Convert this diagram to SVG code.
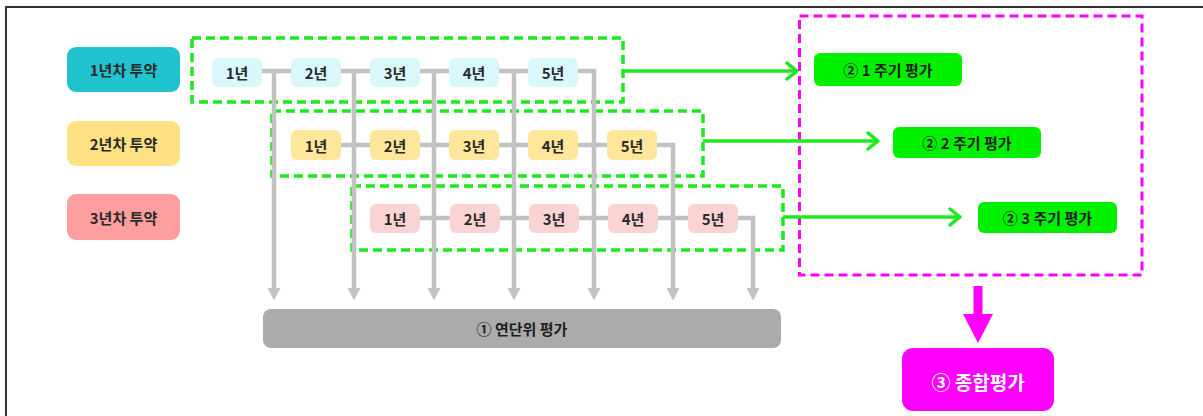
<svg xmlns="http://www.w3.org/2000/svg" width="1203" height="416" viewBox="0 0 1203 416">
<style>
  text { font-family: "Noto Sans CJK KR", "Noto Sans", sans-serif; font-weight: bold; text-anchor: middle; dominant-baseline: central; }
  .lbl { font-size: 15px; fill: #2a2a2a; }
  .yr { font-size: 15px; fill: #2a2a2a; }
  .cyc { font-size: 15px; fill: #1f1f1f; }
  .y1 { fill: #d9f8fc; }
  .y2 { fill: #ffe699; }
  .y3 { fill: #fcd3d3; }
  .gray { stroke: #c2c2c2; stroke-width: 4.5; fill: none; }
  .gdash { stroke: #1ee81e; stroke-width: 3.5; fill: none; stroke-dasharray: 9 5; }
  .garrow { stroke: #1ee81e; stroke-width: 3.5; fill: none; }
  .gbox { fill: #00f000; }
</style>
<defs>
  <marker id="grayHead" markerUnits="userSpaceOnUse" markerWidth="14" markerHeight="14" viewBox="0 0 13 14" refX="1" refY="7" orient="auto">
    <path d="M0,0.5 L12.5,7 L0,13.5 z" fill="#c2c2c2"/>
  </marker>
  <marker id="greenHead" markerUnits="userSpaceOnUse" markerWidth="16" markerHeight="20" viewBox="0 0 16 20" refX="13" refY="10" orient="auto">
    <path d="M3,2 L13,10 L3,18" stroke="#1ee81e" stroke-width="3.5" fill="none" stroke-linecap="round" stroke-linejoin="round"/>
  </marker>
</defs>

<rect x="0" y="0" width="1203" height="416" fill="#ffffff"/>
<path d="M6,416 L6,7 L1203,7" stroke="#333333" stroke-width="2" fill="none"/>

<!-- dashed group frames -->
<g id="frames">
  <rect x="192" y="38" width="431" height="64" class="gdash"/>
  <rect x="272" y="111" width="431" height="65" class="gdash"/>
  <rect x="352" y="186" width="431" height="64" class="gdash"/>
  <rect x="799.5" y="16" width="342.5" height="259" fill="none" stroke="#ff00ff" stroke-width="3" stroke-dasharray="9 5"/>
</g>

<!-- connectors -->
<g id="connectors">
  <path class="gray" d="M262,71 H291 M341,71 H370 M420,71 H449 M499,71 H528 M578,71 H594 V289" marker-end="url(#grayHead)"/>
  <path class="gray" d="M341,145 H370 M420,145 H449 M499,145 H528 M578,145 H607 M657,145 H673 V289" marker-end="url(#grayHead)"/>
  <path class="gray" d="M420,218 H450 M500,218 H529 M579,218 H608 M658,218 H688 M738,218 H753 V289" marker-end="url(#grayHead)"/>
  <path class="gray" d="M274,71 V289" marker-end="url(#grayHead)"/>
  <path class="gray" d="M354,71 V289" marker-end="url(#grayHead)"/>
  <path class="gray" d="M434,71 V289" marker-end="url(#grayHead)"/>
  <path class="gray" d="M514,71 V289" marker-end="url(#grayHead)"/>
  <path class="garrow" d="M623,71 H797" marker-end="url(#greenHead)"/>
  <path class="garrow" d="M703,141 H878" marker-end="url(#greenHead)"/>
  <path class="garrow" d="M783,217 H960" marker-end="url(#greenHead)"/>
  <path d="M973.5,286 H982.5 V314 H993 L978,343 L963,314 H973.5 Z" fill="#ff00ff"/>
</g>

<!-- row labels -->
<g id="label-1"><rect x="67" y="47" width="113" height="45" rx="9" fill="#1fc4cf"/><text x="123.5" y="69.5" class="lbl">1년차 투약</text></g>
<g id="label-2"><rect x="67" y="121" width="113" height="45" rx="9" fill="#ffe083"/><text x="123.5" y="143.5" class="lbl">2년차 투약</text></g>
<g id="label-3"><rect x="67" y="194" width="113" height="46" rx="9" fill="#ff9e9e"/><text x="123.5" y="217" class="lbl">3년차 투약</text></g>

<!-- row 1 years -->
<g id="r1-y1"><rect x="212" y="58" width="50" height="29" rx="6" class="y1"/><text x="237" y="72.5" class="yr">1년</text></g>
<g id="r1-y2"><rect x="291" y="58" width="50" height="29" rx="6" class="y1"/><text x="316" y="72.5" class="yr">2년</text></g>
<g id="r1-y3"><rect x="370" y="58" width="50" height="29" rx="6" class="y1"/><text x="395" y="72.5" class="yr">3년</text></g>
<g id="r1-y4"><rect x="449" y="58" width="50" height="29" rx="6" class="y1"/><text x="474" y="72.5" class="yr">4년</text></g>
<g id="r1-y5"><rect x="528" y="58" width="50" height="29" rx="6" class="y1"/><text x="553" y="72.5" class="yr">5년</text></g>

<!-- row 2 years -->
<g id="r2-y1"><rect x="291" y="130" width="50" height="30" rx="6" class="y2"/><text x="316" y="145" class="yr">1년</text></g>
<g id="r2-y2"><rect x="370" y="130" width="50" height="30" rx="6" class="y2"/><text x="395" y="145" class="yr">2년</text></g>
<g id="r2-y3"><rect x="449" y="130" width="50" height="30" rx="6" class="y2"/><text x="474" y="145" class="yr">3년</text></g>
<g id="r2-y4"><rect x="528" y="130" width="50" height="30" rx="6" class="y2"/><text x="553" y="145" class="yr">4년</text></g>
<g id="r2-y5"><rect x="607" y="130" width="50" height="30" rx="6" class="y2"/><text x="632" y="145" class="yr">5년</text></g>

<!-- row 3 years -->
<g id="r3-y1"><rect x="370" y="204" width="50" height="29" rx="6" class="y3"/><text x="395" y="218.5" class="yr">1년</text></g>
<g id="r3-y2"><rect x="450" y="204" width="50" height="29" rx="6" class="y3"/><text x="475" y="218.5" class="yr">2년</text></g>
<g id="r3-y3"><rect x="529" y="204" width="50" height="29" rx="6" class="y3"/><text x="554" y="218.5" class="yr">3년</text></g>
<g id="r3-y4"><rect x="608" y="204" width="50" height="29" rx="6" class="y3"/><text x="633" y="218.5" class="yr">4년</text></g>
<g id="r3-y5"><rect x="688" y="204" width="50" height="29" rx="6" class="y3"/><text x="713" y="218.5" class="yr">5년</text></g>

<!-- annual evaluation -->
<g id="annual"><rect x="263" y="309" width="518" height="39" rx="8" fill="#ababab"/><text x="522" y="328.5" class="cyc">① 연단위 평가</text></g>

<!-- cycle evaluations -->
<g id="cycle-1"><rect x="814" y="53" width="148" height="33" rx="6" class="gbox"/><text x="888" y="69.5" class="cyc">② 1 주기 평가</text></g>
<g id="cycle-2"><rect x="893" y="127" width="148" height="31" rx="6" class="gbox"/><text x="967" y="142.5" class="cyc">② 2 주기 평가</text></g>
<g id="cycle-3"><rect x="978" y="202" width="139" height="31" rx="6" class="gbox"/><text x="1047.5" y="217.5" class="cyc">② 3 주기 평가</text></g>

<!-- comprehensive -->
<g id="total"><rect x="902" y="348" width="152" height="63" rx="11" fill="#ff00ff"/><text x="978" y="381" font-size="19" font-weight="normal" fill="#ffffff">③ 종합평가</text></g>
</svg>
